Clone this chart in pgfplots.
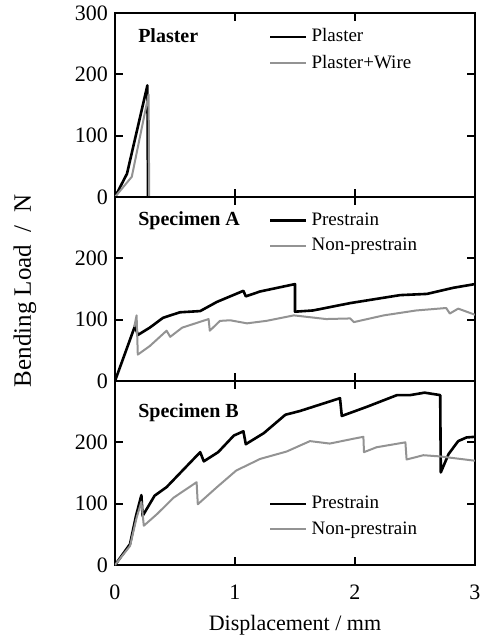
\documentclass[border=0pt]{standalone}
\usepackage{pgfplots}
\pgfplotsset{compat=1.18}
\usepgfplotslibrary{groupplots}
\usepackage{fontspec}
\setmainfont{Liberation Serif}

\begin{document}
\begin{tikzpicture}
\begin{groupplot}[
    group style={group size=1 by 3, vertical sep=0pt, xticklabels at=edge bottom},
    width=180pt, height=92pt, scale only axis,
    xmin=0, xmax=3, ymin=0, ymax=300,
    xtick={0,1,2,3},
    tick align=inside, major tick length=4pt,
    axis line style={line width=1pt},
    every tick/.style={line width=0.9pt, black},
    tick label style={font=\fontsize{11}{13}\selectfont},
    xticklabel style={yshift=-6.5pt},
    /pgf/number format/assume math mode=true,
    legend cell align=left,
    legend style={draw=none, fill=none, font=\fontsize{9.5}{11}\selectfont,
      row sep=1pt, anchor=north west},
    legend image code/.code={\draw[#1] (0pt,0pt) -- (18pt,0pt);},
    pre/.style={black, line width=1.3pt, line join=round},
    non/.style={gray!85, line width=1pt, line join=round},
]
% Plaster
\nextgroupplot[ytick={0,100,200,300}, legend style={at={(rel axis cs:0.41,0.96)}}]
\addplot[pre] coordinates {(0,0) (0.1,38) (0.27,182) (0.275,0)};
\addlegendentry{Plaster}
\addplot[non] coordinates {(0,0) (0.14,33) (0.28,167) (0.285,0)};
\addlegendentry{Plaster+Wire}
\node[anchor=west, font=\bfseries\fontsize{10}{12}\selectfont] at (rel axis cs:0.045,0.875) {Plaster};
\coordinate (tl) at (rel axis cs:0,1);

% Specimen A
\nextgroupplot[ytick={0,100,200}, legend style={at={(rel axis cs:0.41,0.96)}},
    ylabel={Bending Load\ \ /\ \ N},
    ylabel style={at={(rel axis cs:-0.25,0.49)}, anchor=center, font=\fontsize{12.5}{14}\selectfont}]
\addplot[pre] coordinates {(0,0) (0.167,90) (0.19,75) (0.29,87) (0.40,103) (0.54,112)
  (0.71,114) (0.85,129) (1.07,147) (1.09,138) (1.21,146) (1.5,158) (1.5,113) (1.65,115)
  (1.96,127) (2.375,140) (2.6,142) (2.82,152) (3.0,158)};
\addlegendentry{Prestrain}
\addplot[non] coordinates {(0.16,88) (0.18,107) (0.19,43) (0.29,57) (0.43,82) (0.46,72)
  (0.56,87) (0.78,101) (0.79,82) (0.875,98) (0.96,99) (1.1,94) (1.26,98) (1.49,107)
  (1.76,101) (1.96,102) (1.99,96) (2.24,107) (2.51,115) (2.76,119) (2.79,110) (2.86,118)
  (3.0,108)};
\addlegendentry{Non-prestrain}
\node[anchor=west, font=\bfseries\fontsize{10}{12}\selectfont] at (rel axis cs:0.045,0.87) {Specimen A};

% Specimen B
\nextgroupplot[ytick={0,100,200}, legend style={at={(rel axis cs:0.41,0.42)}},
    xlabel={Displacement / mm},
    xlabel style={at={(rel axis cs:0.5,-0.326)}, anchor=center, inner sep=1pt,
      font=\fontsize{11}{13}\selectfont}]
\addplot[pre] coordinates {(0,0) (0.125,34) (0.175,80) (0.22,114) (0.23,80) (0.33,113)
  (0.43,127) (0.71,184) (0.74,169) (0.86,184) (0.99,211) (1.07,218) (1.09,197) (1.24,215)
  (1.42,245) (1.54,251) (1.875,272) (1.89,243) (2.1,258) (2.35,277) (2.46,277) (2.58,281)
  (2.71,277) (2.715,151) (2.78,181) (2.86,202) (2.93,208) (3.0,209)};
\addlegendentry{Prestrain}
\addplot[non] coordinates {(0,0) (0.125,31) (0.18,77) (0.22,103) (0.24,64) (0.35,83)
  (0.49,110) (0.68,135) (0.69,99) (0.85,127) (1.01,154) (1.21,173) (1.43,185) (1.625,202)
  (1.79,198) (1.99,206) (2.07,209) (2.075,184) (2.18,192) (2.42,200) (2.43,172) (2.57,179)
  (2.71,177) (3.0,170)};
\addlegendentry{Non-prestrain}
\node[anchor=west, font=\bfseries\fontsize{10}{12}\selectfont] at (rel axis cs:0.045,0.83) {Specimen B};
\coordinate (br) at (rel axis cs:1,0);
\end{groupplot}
% page margins as in the reference
\pgfresetboundingbox
\path (tl) +(-57.5pt,6.5pt) coordinate (a) (br) +(7pt,-36pt) coordinate (b);
\path (a) rectangle (b);
\end{tikzpicture}
\end{document}
